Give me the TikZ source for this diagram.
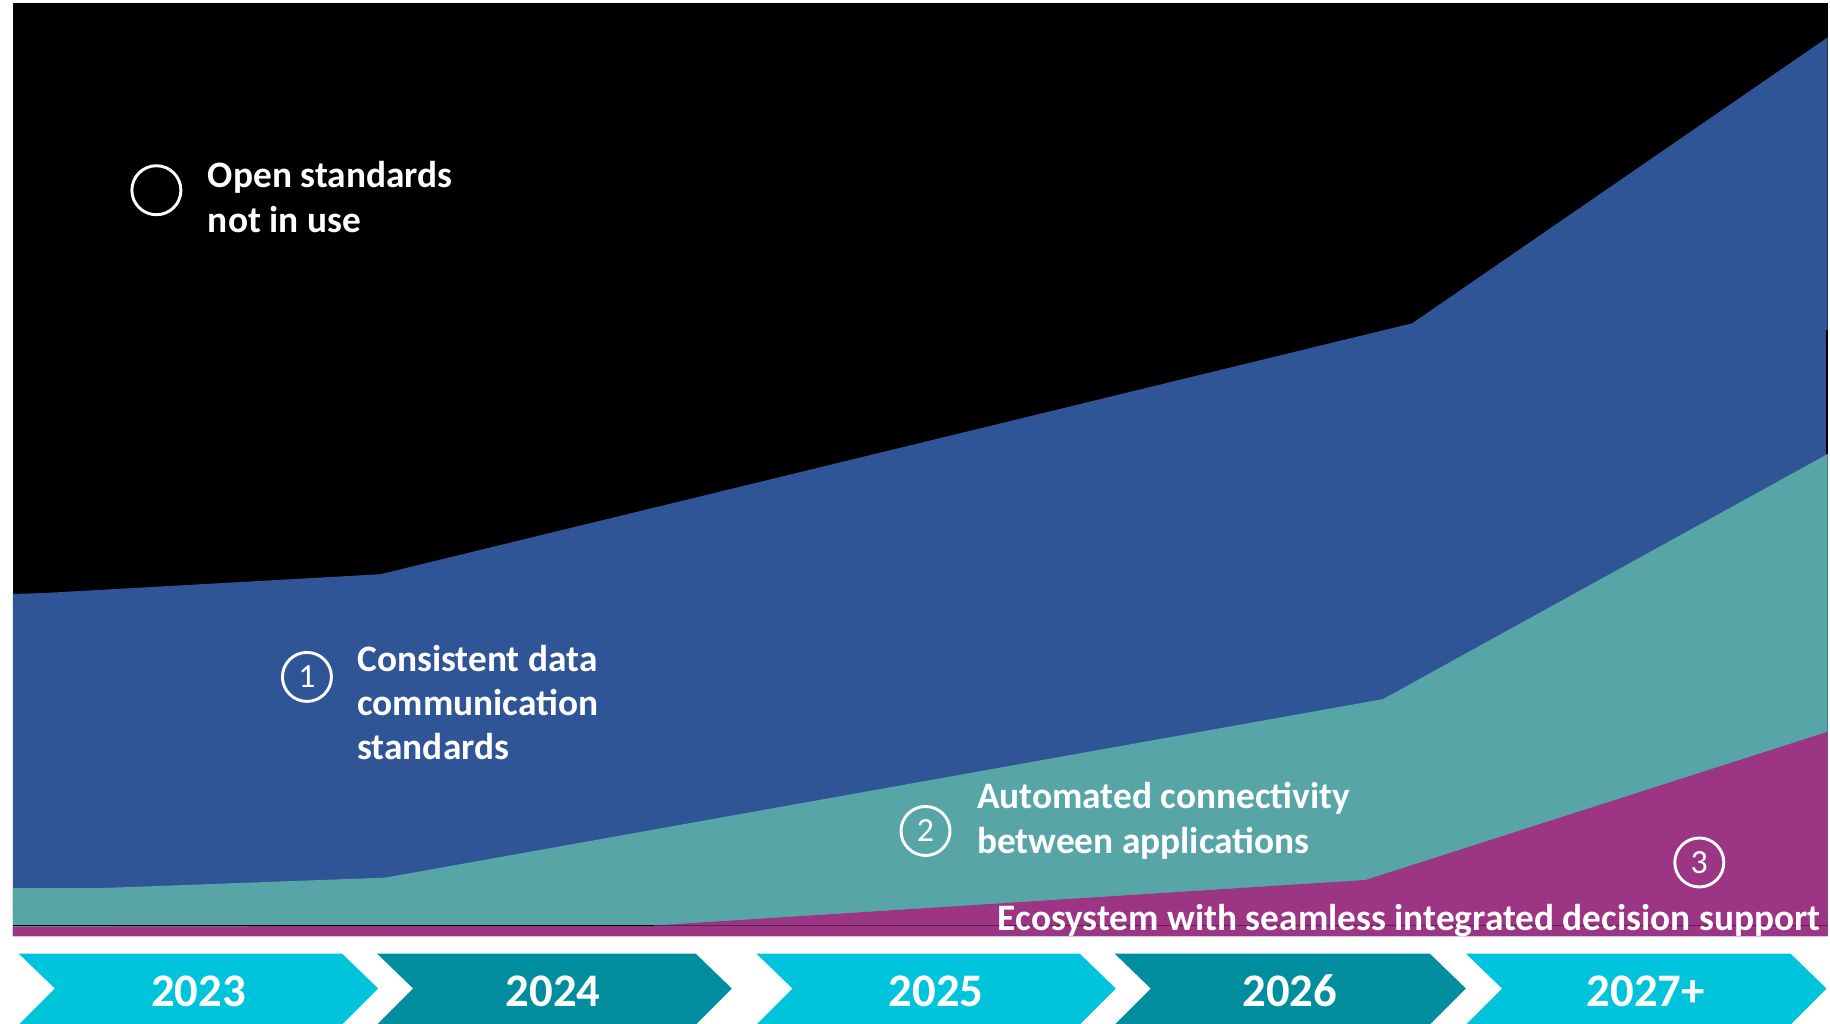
\documentclass[tikz,border=0pt]{standalone}
\usepackage{fontspec}
\setmainfont{Carlito}
\definecolor{cblue}{RGB}{47,85,151}
\definecolor{cteal}{RGB}{88,165,167}
\definecolor{cmag}{RGB}{157,53,133}
\definecolor{ccyan}{RGB}{0,196,220}
\definecolor{cdteal}{RGB}{0,142,158}
\tikzset{
  lbl/.style={text=white, font=\fontsize{32}{38}\selectfont\bfseries, inner sep=0pt},
  yr/.style={text=white, font=\fontsize{40}{48}\selectfont\bfseries, inner sep=0pt, anchor=center},
  ring/.style={circle, draw=white, line width=2.5pt, minimum size=42pt, inner sep=0pt,
    text=white, font=\fontsize{29}{34}\selectfont},
}
\newcommand{\mychev}[3]{%
  \fill[#3] (#1,817) -- (#2,817) -- ({#2+31},847) -- (#2,878) -- (#1,878) -- ({#1+31},847) -- cycle;}
\begin{document}
\begin{tikzpicture}[x=1pt,y=-1pt]
\useasboundingbox (0,0) rectangle (1568,877);
\fill[white] (0,0) rectangle (1568,877);
% plot layers
\fill[black] (11,3) rectangle (1566,802);
\fill[cblue] (11,509) -- (40,508) -- (326,492) -- (1210,277) -- (1566,32) -- (1566,802) -- (11,802) -- cycle;
\fill[cteal] (11,761) -- (85,761) -- (330,752) -- (1185,599) -- (1566,389) -- (1566,802) -- (11,802) -- cycle;
\fill[cmag] (11,794) -- (560,793) -- (1170,754) -- (1566,627) -- (1566,802) -- (11,802) -- cycle;
\draw[black, line width=1.5pt] (11,793) -- (560,793);
\draw[cmag!60!black, line width=1.2pt] (560,793) -- (1566,793);
\fill[black] (1564.5,283) rectangle (1566,389);
% labels
\node[ring] (c0) at (134,163) {};
\node[lbl, anchor=base west] (t0a) at (178,161) {Open standards};
\node[lbl, anchor=base west] (t0b) at (178,199) {not in use};
\node[ring] (c1) at (263,580) {1};
\node[lbl, anchor=base west] (t1a) at (306,575) {Consistent data};
\node[lbl, anchor=base west] (t1b) at (306,613) {communication};
\node[lbl, anchor=base west] (t1c) at (306,651) {standards};
\node[ring] (c2) at (793,712) {2};
\node[lbl, anchor=base west] (t2a) at (837,693) {Automated connectivity};
\node[lbl, anchor=base west] (t2b) at (837,731) {between applications};
\node[ring] (c3) at (1456,739) {3};
\node[lbl, anchor=base east] (t3) at (1560,797) {Ecosystem with seamless integrated decision support};
% timeline
\mychev{16}{293}{ccyan}
\mychev{323}{596}{cdteal}
\mychev{648}{925}{ccyan}
\mychev{955}{1225}{cdteal}
\mychev{1256}{1534}{ccyan}
\node[yr] (y1) at (170,849) {2023};
\node[yr] (y2) at (474,849) {2024};
\node[yr] (y3) at (802,849) {2025};
\node[yr] (y4) at (1105,849) {2026};
\node[yr] (y5) at (1410,849) {2027+};
\end{tikzpicture}
\end{document}
